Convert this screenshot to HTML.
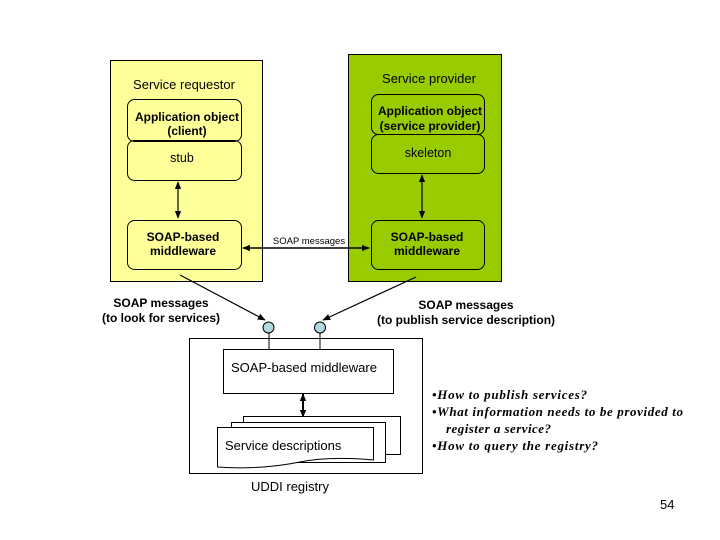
<!DOCTYPE html>
<html><head><meta charset="utf-8"><style>
html,body{margin:0;padding:0;background:#fff;width:720px;height:540px;overflow:hidden}
svg{display:block;font-family:"Liberation Sans",sans-serif}
</style></head><body>
<svg width="720" height="540" viewBox="0 0 720 540" xmlns="http://www.w3.org/2000/svg">
<defs>
<marker id="a" viewBox="0 0 10 10" refX="9" refY="5" markerWidth="8" markerHeight="8" markerUnits="userSpaceOnUse" orient="auto-start-reverse"><path d="M0,1 L10,5 L0,9 z" fill="#000"/></marker>
</defs>
<rect x="110.5" y="60.5" width="152" height="221" fill="#ffff99" stroke="#000"/>
<rect x="348.5" y="54.5" width="153" height="227" fill="#99cc00" stroke="#000"/>
<text x="184" y="89" font-size="13" text-anchor="middle">Service requestor</text>
<text x="429" y="83" font-size="13" text-anchor="middle">Service provider</text>
<g stroke="#000" fill="none">
<rect x="127.5" y="99.5" width="114" height="42" rx="7"/>
<rect x="127.5" y="140.5" width="114" height="40" rx="7"/>
<rect x="127.5" y="220.5" width="114" height="49" rx="7"/>
<rect x="371.5" y="94.5" width="113" height="40" rx="7"/>
<rect x="371.5" y="134.5" width="113" height="39" rx="7"/>
<rect x="371.5" y="220.5" width="113" height="49" rx="7"/>
</g>
<g font-size="12" font-weight="bold" text-anchor="middle">
<text x="187" y="121">Application object</text><text x="187" y="135">(client)</text>
<text x="430" y="115">Application object</text><text x="430" y="130">(service provider)</text>
<text x="183" y="241">SOAP-based</text><text x="183" y="255">middleware</text>
<text x="427" y="241">SOAP-based</text><text x="427" y="255">middleware</text>
<text x="161" y="307">SOAP messages</text><text x="161" y="322">(to look for services)</text>
<text x="466" y="309">SOAP messages</text><text x="466" y="324">(to publish service description)</text>
</g>
<text x="182" y="162" font-size="12.5" text-anchor="middle">stub</text>
<text x="428" y="157" font-size="12.5" text-anchor="middle">skeleton</text>
<text x="309" y="244" font-size="9.5" text-anchor="middle">SOAP messages</text>
<g stroke="#000" stroke-width="1.2" fill="none">
<line x1="178" y1="182" x2="178" y2="218" marker-start="url(#a)" marker-end="url(#a)"/>
<line x1="422" y1="175" x2="422" y2="218" marker-start="url(#a)" marker-end="url(#a)"/>
<line x1="243" y1="248" x2="369" y2="248" stroke-width="1.6" marker-start="url(#a)" marker-end="url(#a)"/>
<line x1="180" y1="275" x2="265" y2="320" marker-end="url(#a)"/>
<line x1="416" y1="277" x2="323" y2="320" marker-end="url(#a)"/>
<line x1="303" y1="394" x2="303" y2="417" stroke-width="2" marker-start="url(#a)" marker-end="url(#a)"/>
</g>
<g stroke="#000">
<line x1="269" y1="333" x2="269" y2="349"/><line x1="320" y1="333" x2="320" y2="349"/>
<circle cx="268.5" cy="327.5" r="5.5" fill="#b3d9e0"/>
<circle cx="320" cy="327.5" r="5.5" fill="#b3d9e0"/>
<rect x="189.5" y="338.5" width="233" height="135" fill="none"/>
<rect x="223.5" y="349.5" width="170" height="44" fill="#fff"/>
<rect x="243.5" y="416.5" width="157" height="38" fill="#fff"/>
<rect x="231.5" y="422.5" width="154" height="40" fill="#fff"/>
<path d="M217.5,427.5 H373.5 V460 Q330,456 300,462 Q260,470 217.5,467 Z" fill="#fff"/>
</g>
<text x="231" y="372" font-size="13">SOAP-based middleware</text>
<text x="225" y="450" font-size="13">Service descriptions</text>
<text x="290" y="491" font-size="13" text-anchor="middle">UDDI registry</text>
<g font-family="Liberation Serif,serif" font-size="13" font-weight="bold" font-style="italic">
<text x="432" y="399" textLength="155">•How to publish services?</text>
<text x="432" y="416" textLength="251">•What information needs to be provided to</text>
<text x="446" y="433" textLength="105">register a service?</text>
<text x="432" y="450" textLength="166">•How to query the registry?</text>
</g>
<text x="660" y="509" font-size="13">54</text>
</svg>
</body></html>
